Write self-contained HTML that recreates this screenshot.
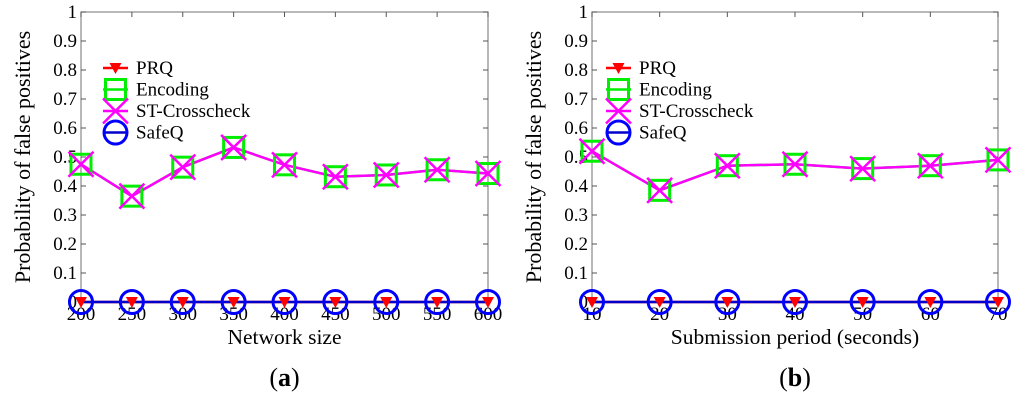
<!DOCTYPE html>
<html><head><meta charset="utf-8"><style>
body{margin:0;background:#fff;width:1024px;height:411px;overflow:hidden}
svg text{font-family:"Liberation Serif",serif;fill:#000}
</style></head><body>
<svg id="s" width="1024" height="411"></svg>
<script>
const yTicks=[0,0.1,0.2,0.3,0.4,0.5,0.6,0.7,0.8,0.9,1];
const catsA=[200,250,300,350,400,450,500,550,600];
const encA=[0.475,0.365,0.465,0.533,0.473,0.432,0.438,0.456,0.443];
const stA=[0.475,0.365,0.465,0.533,0.473,0.432,0.438,0.456,0.443];
const prqA=[0,0,0,0,0,0,0,0,0];
const safeA=[0,0,0,0,0,0,0,0,0];
const catsB=[10,20,30,40,50,60,70];
const encB=[0.52,0.385,0.47,0.475,0.46,0.47,0.49];
const stB=[0.52,0.385,0.47,0.475,0.46,0.47,0.49];
const prqB=[0,0,0,0,0,0,0];
const safeB=[0,0,0,0,0,0,0];
const legendNames=["PRQ","Encoding","ST-Crosscheck","SafeQ"];
const NS="http://www.w3.org/2000/svg";
const svg=document.getElementById('s');
function mk(t,a,p){const e=document.createElementNS(NS,t);for(const k in a)e.setAttribute(k,a[k]);(p||svg).appendChild(e);return e;}
function tri(g,x,y){return mk('path',{d:`M${x-6},${y-5}L${x+6},${y-5}L${x},${y+6}Z`,fill:'#ff0000'},g);}
function sq(g,x,y){return mk('rect',{x:x-10,y:y-10,width:20,height:20,fill:'none',stroke:'#00ee00','stroke-width':3},g);}
function cross(g,x,y){return mk('path',{d:`M${x-12.5},${y-12.5}L${x+12.5},${y+12.5}M${x-12.5},${y+12.5}L${x+12.5},${y-12.5}`,stroke:'#ff00ff','stroke-width':2.5},g);}
function circ(g,x,y){return mk('circle',{cx:x,cy:y,r:11.5,fill:'none',stroke:'#0000ff','stroke-width':3},g);}
function panel(id,L,R,cats,series,xlabel,cap,legX){
  const T=12,B=302;
  const g=mk('g',{});
  
  
  const xs=i=>L+(R-L)*i/(cats.length-1);
  const ys=v=>B-(B-T)*v;
  mk('rect',{x:L,y:T,width:R-L,height:B-T,fill:'none',stroke:'#888','stroke-width':1.2},g);
  yTicks.forEach(v=>{
    const y=ys(v);
    mk('line',{x1:L,x2:L+5,y1:y,y2:y,stroke:'#555'},g);
    mk('line',{x1:R-5,x2:R,y1:y,y2:y,stroke:'#555'},g);
    const t=mk('text',{x:L-4,y:y+6,'text-anchor':'end','font-size':19},g);t.textContent=v;
    
    
  });
  cats.forEach((c,i)=>{
    const x=xs(i);
    mk('line',{x1:x,x2:x,y1:B,y2:B-5,stroke:'#555'},g);
    mk('line',{x1:x,x2:x,y1:T,y2:T+5,stroke:'#555'},g);
    const t=mk('text',{x:x,y:B+18,'text-anchor':'middle','font-size':19},g);t.textContent=c;
    
    
  });
  const cols=['#ff0000','#00ee00','#ff00ff','#0000cc'];
  const mks=[tri,sq,cross,circ];
  const order=[1,2,0,3];
  order.forEach(si=>{
    const d=series[si];
    const pl=mk('polyline',{points:d.map((v,i)=>xs(i)+','+ys(v)).join(' '),fill:'none',stroke:cols[si],'stroke-width':2.5},g);
    
    
  });
  order.forEach(si=>{series[si].forEach((v,i)=>{const m=mks[si](g,xs(i),ys(v));
    
    });});
  legendNames.forEach((n,i)=>{
    const y=68+i*21.5;
    mk('line',{x1:legX,x2:legX+25,y1:y,y2:y,stroke:cols[i],'stroke-width':2.5},g);
    mks[i](g,legX+12.5,y);
    const t=mk('text',{x:legX+33,y:y+6,'font-size':19},g);t.textContent=n;
    
    
  });
  const xl=mk('text',{x:(L+R)/2,y:344,'text-anchor':'middle','font-size':21.5},g);xl.textContent=xlabel;
  
  
  const yl=mk('text',{x:0,y:0,'text-anchor':'middle','font-size':22,'xml:space':'preserve',transform:`translate(${L-51},${(T+B)/2}) rotate(-90)`},g);yl.textContent="Probability of  false positives";
  
  
  const c=mk('text',{x:(L+R)/2,y:386,'text-anchor':'middle','font-size':26},g);
  c.innerHTML='(<tspan font-weight="bold">'+cap+'</tspan>)';
  
  
}
panel('a',81,488,catsA,[prqA,encA,stA,safeA],'Network size','a',103);
panel('b',592,998,catsB,[prqB,encB,stB,safeB],'Submission period (seconds)','b',606);
</script>
</body></html>
